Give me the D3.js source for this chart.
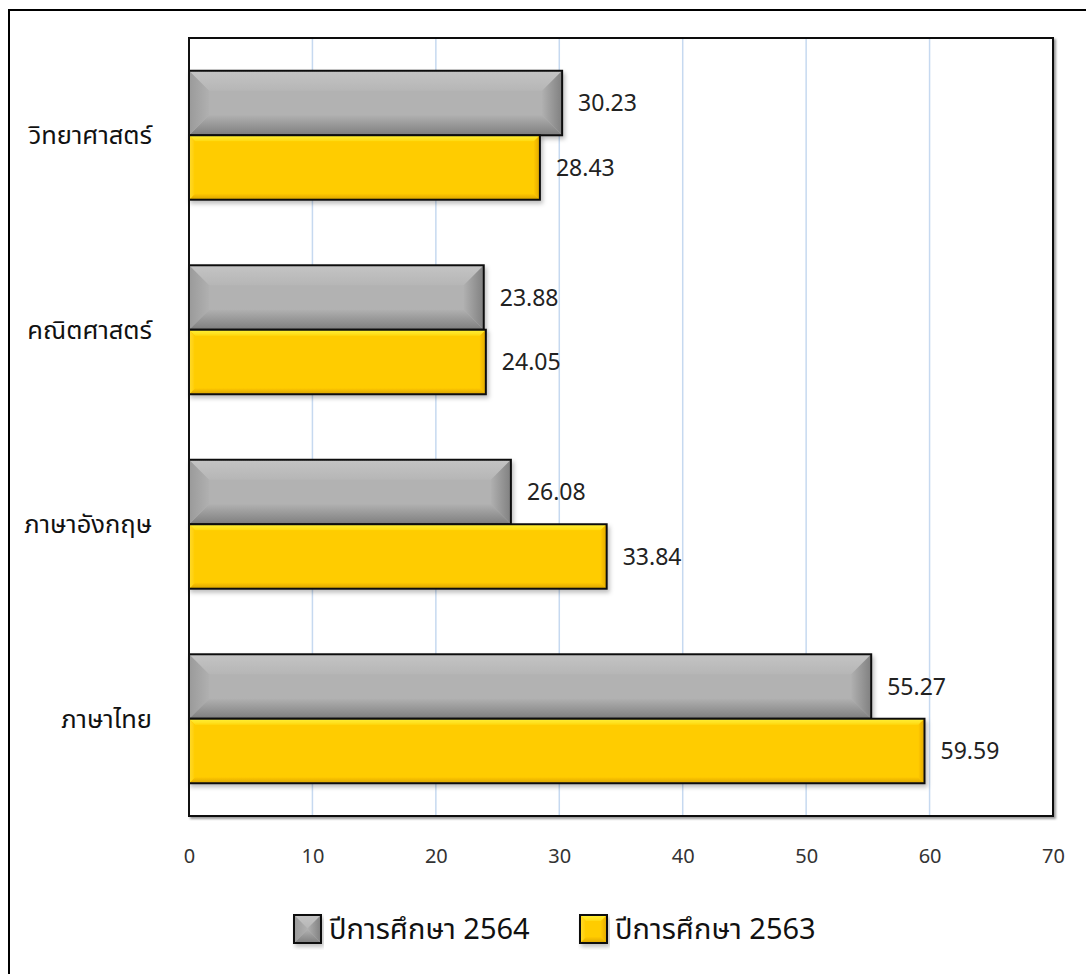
<!DOCTYPE html>
<html><head><meta charset="utf-8">
<script src="https://cdn.jsdelivr.net/npm/d3@7"></script>
<style>
html,body{margin:0;padding:0;background:#fff;}
svg{display:block;}
</style></head>
<body>
<svg id="chart" width="1086" height="974"></svg>
<script>
const categories = ["วิทยาศาสตร์", "คณิตศาสตร์", "ภาษาอังกฤษ", "ภาษาไทย"];
const seriesNames = ["ปีการศึกษา 2564", "ปีการศึกษา 2563"];
const values2564 = [30.23, 23.88, 26.08, 55.27];
const values2563 = [28.43, 24.05, 33.84, 59.59];
const xTicks = [0, 10, 20, 30, 40, 50, 60, 70];

const svg = d3.select("#chart");
const plot = {left: 189, right: 1053, top: 38, bottom: 816};
const numFont = "'Noto Sans', 'Open Sans', sans-serif";
const thaiFont = "'Noto Sans Thai', 'Noto Sans', 'DejaVu Sans', sans-serif";

const defs = svg.append("defs");
const sh = defs.append("filter").attr("id","shadow").attr("x","-5%").attr("y","-10%").attr("width","115%").attr("height","135%");
sh.append("feDropShadow").attr("dx",2).attr("dy",3).attr("stdDeviation",2).attr("flood-color","#000").attr("flood-opacity",0.25);
const sh2 = defs.append("filter").attr("id","shadow2").attr("x","-2%").attr("y","-2%").attr("width","104%").attr("height","104%");
sh2.append("feDropShadow").attr("dx",2).attr("dy",2).attr("stdDeviation",1).attr("flood-color","#000").attr("flood-opacity",0.4);

function grad(id, x1,y1,x2,y2, c1, c2){
  const g = defs.append("linearGradient").attr("id",id).attr("x1",x1).attr("y1",y1).attr("x2",x2).attr("y2",y2);
  g.append("stop").attr("offset","0%").attr("stop-color",c1);
  g.append("stop").attr("offset","100%").attr("stop-color",c2);
}
const styles = {
  gray: {face:"#b2b2b2", top:["#c4c4c4","#b6b6b6"], bottom:["#b0b0b0","#7e7e7e"], left:["#9a9a9a","#b0b0b0"], right:["#b0b0b0","#808080"], bevel:20},
  yellow: {face:"#ffcc00", top:["#fff23a","#ffd810"], bottom:["#ffc800","#d9a400"], left:["#ffdc30","#ffcc00"], right:["#ffc800","#e0a800"], bevel:6}
};
Object.entries(styles).forEach(([k,s])=>{
  grad(k+"-top","0","0","0","1", s.top[0], s.top[1]);
  grad(k+"-bottom","0","0","0","1", s.bottom[0], s.bottom[1]);
  grad(k+"-left","0","0","1","0", s.left[0], s.left[1]);
  grad(k+"-right","0","0","1","0", s.right[0], s.right[1]);
});

// outer chart border
svg.append("rect").attr("x",9).attr("y",10).attr("width",1200).attr("height",1100)
  .attr("fill","#fff").attr("stroke","#000").attr("stroke-width",2);

const x = d3.scaleLinear().domain([0,70]).range([plot.left, plot.right]);
const y = d3.scaleBand().domain(categories).range([plot.top, plot.bottom]).paddingInner(0.337).paddingOuter(0.1685);
const ySub = d3.scaleBand().domain(seriesNames).range([0, y.bandwidth()]);

// plot area
svg.append("rect").attr("x",plot.left).attr("y",plot.top).attr("width",plot.right-plot.left).attr("height",plot.bottom-plot.top)
  .attr("fill","#fff").attr("stroke","#111").attr("stroke-width",2).attr("filter","url(#shadow2)");

// gridlines
svg.append("g").selectAll("line").data(xTicks.filter(t=>t>0 && t<70)).join("line")
  .attr("x1",d=>x(d)).attr("x2",d=>x(d)).attr("y1",plot.top+1).attr("y2",plot.bottom-1)
  .attr("stroke","#c6d9f0").attr("stroke-width",1.5);

// x axis labels
const xAxis = d3.axisBottom(x).tickValues(xTicks).tickSize(0).tickPadding(0).tickFormat(d3.format("d"));
const ax = svg.append("g").attr("transform",`translate(0,${plot.bottom+40})`).call(xAxis);
ax.select(".domain").remove();
ax.selectAll("text").attr("font-family",numFont).attr("font-size",20).attr("fill","#333").attr("dy","0.35em");

// category labels
svg.append("g").selectAll("text").data(categories).join("text")
  .attr("x",152).attr("y",d=>y(d)+y.bandwidth()/2).attr("dy","0.35em")
  .attr("text-anchor","end").attr("font-family",thaiFont).attr("font-size",25.5).attr("fill","#111")
  .text(d=>d);

function bevelBar(g, bx, by, w, h, key){
  const s = styles[key];
  const b = Math.min(s.bevel, h/2, w/2);
  const grp = g.append("g").attr("filter","url(#shadow)");
  grp.append("rect").attr("x",bx).attr("y",by).attr("width",w).attr("height",h).attr("fill",s.face);
  const P = (pts)=>pts.map(p=>p.join(",")).join(" ");
  grp.append("polygon").attr("points",P([[bx,by],[bx+w,by],[bx+w-b,by+b],[bx+b,by+b]])).attr("fill",`url(#${key}-top)`);
  grp.append("polygon").attr("points",P([[bx,by+h],[bx+w,by+h],[bx+w-b,by+h-b],[bx+b,by+h-b]])).attr("fill",`url(#${key}-bottom)`);
  grp.append("polygon").attr("points",P([[bx,by],[bx+b,by+b],[bx+b,by+h-b],[bx,by+h]])).attr("fill",`url(#${key}-left)`);
  grp.append("polygon").attr("points",P([[bx+w,by],[bx+w-b,by+b],[bx+w-b,by+h-b],[bx+w,by+h]])).attr("fill",`url(#${key}-right)`);
  grp.append("rect").attr("x",bx).attr("y",by).attr("width",w).attr("height",h).attr("fill","none").attr("stroke","#111").attr("stroke-width",2);
}

const series = [
  {name: seriesNames[0], values: values2564, key:"gray"},
  {name: seriesNames[1], values: values2563, key:"yellow"}
];
const barsG = svg.append("g");
const labelsG = svg.append("g");
series.forEach(s=>{
  categories.forEach((c,i)=>{
    const v = s.values[i];
    const by = y(c) + ySub(s.name);
    bevelBar(barsG, x(0), by, x(v)-x(0), ySub.bandwidth(), s.key);
    labelsG.append("text").attr("x",x(v)+16).attr("y",by+ySub.bandwidth()/2).attr("dy","0.35em")
      .attr("font-family",numFont).attr("font-size",23).attr("fill","#222").text(d3.format(".2f")(v));
  });
});
svg.append("line").attr("x1",plot.left).attr("x2",plot.left).attr("y1",plot.top).attr("y2",plot.bottom).attr("stroke","#111").attr("stroke-width",2);

// legend
const legend = svg.append("g");
const legendX = [294, 580];
series.forEach((s,i)=>{
  const lg = legend.append("g").attr("transform",`translate(${legendX[i]},915)`);
  const w=27, h=28;
  bevelBar(lg, 0, 0, w, h, s.key);
  lg.append("text").attr("x",w+8).attr("y",h/2).attr("dy","0.35em")
    .attr("font-family",thaiFont).attr("font-size",29).attr("fill","#111").text(s.name);
});
</script>
</body></html>
